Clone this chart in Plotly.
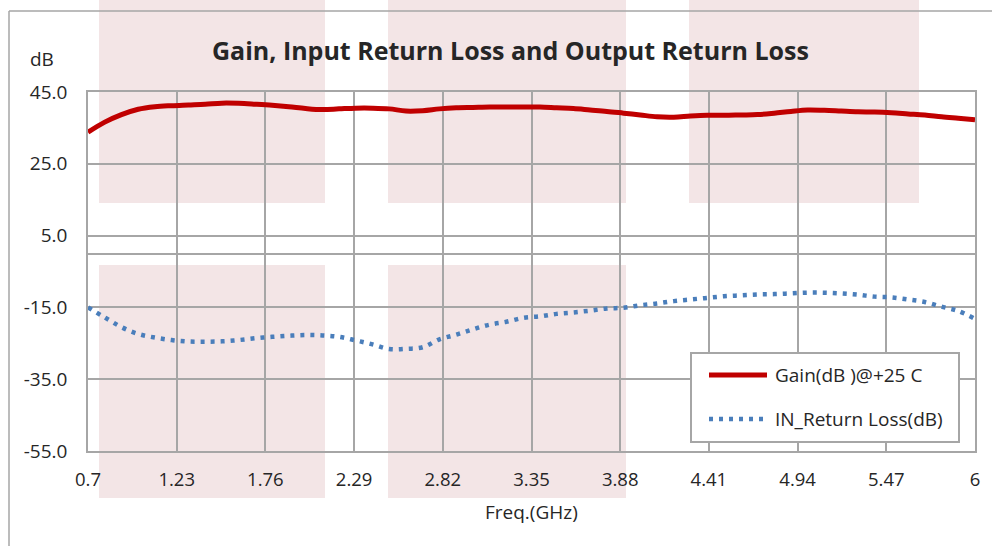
import plotly.graph_objects as go

# ---------------- data ----------------
freq_ghz = [0.7, 0.8, 0.9, 1.0, 1.1, 1.2, 1.3, 1.4, 1.5, 1.6, 1.7, 1.8, 1.9, 2.0,
            2.1, 2.2, 2.3, 2.4, 2.5, 2.6, 2.7, 2.8, 2.9, 3.0, 3.1, 3.2, 3.3, 3.4,
            3.5, 3.6, 3.7, 3.8, 3.9, 4.0, 4.1, 4.2, 4.3, 4.4, 4.5, 4.6, 4.7, 4.8,
            4.9, 5.0, 5.1, 5.2, 5.3, 5.4, 5.5, 5.6, 5.7, 5.8, 5.9, 6.0]

gain_db = [33.8, 36.6, 38.7, 40.2, 40.9, 41.2, 41.4, 41.6, 41.9, 41.85, 41.6, 41.3,
           40.9, 40.4, 40.1, 40.3, 40.5, 40.5, 40.3, 39.7, 39.8, 40.3, 40.6, 40.7,
           40.8, 40.8, 40.8, 40.8, 40.6, 40.4, 40.0, 39.6, 39.1, 38.6, 38.1, 38.0,
           38.3, 38.5, 38.5, 38.6, 38.7, 39.1, 39.6, 40.0, 39.9, 39.7, 39.5, 39.4,
           39.2, 38.9, 38.6, 38.1, 37.7, 37.3]

in_return_loss_db = [-15.0, -17.8, -20.5, -22.4, -23.4, -24.1, -24.5, -24.55, -24.45,
                     -24.1, -23.6, -23.2, -22.9, -22.7, -22.8, -23.2, -24.2, -25.3,
                     -26.6, -26.55, -26.1, -23.9, -22.6, -21.1, -19.8, -19.0, -17.9,
                     -17.5, -16.8, -16.4, -15.9, -15.3, -15.1, -14.4, -13.9, -13.25,
                     -12.8, -12.35, -11.9, -11.65, -11.4, -11.3, -11.1, -10.9, -10.9,
                     -11.1, -11.45, -12.0, -12.2, -12.8, -13.5, -14.8, -16.0, -18.2]

x_tick_vals = [0.7, 1.23, 1.76, 2.29, 2.82, 3.35, 3.88, 4.41, 4.94, 5.47, 6.0]
x_tick_text = ["0.7", "1.23", "1.76", "2.29", "2.82", "3.35", "3.88", "4.41", "4.94", "5.47", "6"]
y_tick_vals = [-55, -35, -15, 5, 25, 45]
y_tick_text = ["-55.0", "-35.0", "-15.0", "5.0", "25.0", "45.0"]

series_names = ["Gain(dB )@+25 C", "IN_Return Loss(dB)"]
title_text = "Gain, Input Return Loss and Output Return Loss"

# ---------------- layout geometry (window pixels) ----------------
W, H = 992, 546
L, R, T, B = 88, 975, 92, 451   # plot area in window pixels
FONT = "Open Sans"
TXT = "#262626"
GRID = "#a6a6a6"
PINK = "#f3e5e6"
RED = "#c00000"
BLUE = "#4a7ebb"
DOT = "4px,6px"


def px(x):
    return (x - L) / (R - L)


def py(y):
    return (B - y) / (B - T)


fig = go.Figure()
fig.add_trace(go.Scatter(x=freq_ghz, y=gain_db, mode="lines", name=series_names[0],
                         line=dict(color=RED, width=5, shape="spline"), showlegend=False))
fig.add_trace(go.Scatter(x=freq_ghz, y=in_return_loss_db, mode="lines", name=series_names[1],
                         line=dict(color=BLUE, width=4.5, dash=DOT, shape="spline"),
                         showlegend=False))

shapes = []
# background watermark blocks
for (x0, y0, x1, y1) in [(99, -2, 325, 203), (388, -2, 626, 203), (689, -2, 919, 203),
                         (99, 265, 325, 498), (388, 265, 626, 498)]:
    shapes.append(dict(type="rect", xref="paper", yref="paper", x0=px(x0), x1=px(x1),
                       y0=py(y1), y1=py(y0), fillcolor=PINK, line=dict(width=0), layer="below"))
# outer chart border (top and left)
shapes.append(dict(type="line", xref="paper", yref="paper", x0=px(9), x1=px(995),
                   y0=py(11), y1=py(11), line=dict(color=GRID, width=1.5), layer="below"))
shapes.append(dict(type="line", xref="paper", yref="paper", x0=px(9), x1=px(9),
                   y0=py(11), y1=py(560), line=dict(color=GRID, width=1.5), layer="below"))
# legend box
shapes.append(dict(type="rect", xref="paper", yref="paper", x0=px(691), x1=px(959),
                   y0=py(442), y1=py(353), fillcolor="white", line=dict(color=GRID, width=2),
                   layer="above"))
shapes.append(dict(type="line", xref="paper", yref="paper", x0=px(709), x1=px(767),
                   y0=py(375), y1=py(375), line=dict(color=RED, width=5), layer="above"))
shapes.append(dict(type="line", xref="paper", yref="paper", x0=px(709), x1=px(767),
                   y0=py(419), y1=py(419), line=dict(color=BLUE, width=4.5, dash=DOT),
                   layer="above"))

annotations = [
    dict(text=series_names[0], xref="paper", yref="paper", x=px(773), y=py(375),
         xanchor="left", yanchor="middle", showarrow=False, font=dict(size=19, color=TXT, family=FONT)),
    dict(text=series_names[1], xref="paper", yref="paper", x=px(773), y=py(419),
         xanchor="left", yanchor="middle", showarrow=False, font=dict(size=19, color=TXT, family=FONT)),
    dict(text="dB", xref="paper", yref="paper", x=px(42), y=py(59),
         xanchor="center", yanchor="middle", showarrow=False, font=dict(size=19, color=TXT, family=FONT)),
    dict(text="Freq.(GHz)", xref="paper", yref="paper", x=px(531), y=py(512),
         xanchor="center", yanchor="middle", showarrow=False, font=dict(size=19, color=TXT, family=FONT)),
    dict(text="<b>" + title_text + "</b>", xref="paper", yref="paper", x=px(510), y=py(50),
         xanchor="center", yanchor="middle", showarrow=False, font=dict(size=25, color=TXT, family=FONT)),
]

fig.update_layout(
    width=W, height=H,
    margin=dict(l=L, r=W - R, t=T, b=H - B, pad=0),
    paper_bgcolor="white", plot_bgcolor="rgba(0,0,0,0)",
    shapes=shapes, annotations=annotations,
    font=dict(family=FONT, size=18, color=TXT),
    showlegend=False,
)
fig.update_xaxes(range=[0.7, 6.0], tickmode="array", tickvals=x_tick_vals, ticktext=x_tick_text,
                 showgrid=True, gridcolor=GRID, gridwidth=1.5, zeroline=False,
                 showline=True, linecolor=GRID, linewidth=1.5, mirror=True,
                 ticks="", ticklabelstandoff=11, tickfont=dict(size=18.5, color=TXT, family=FONT))
fig.update_yaxes(range=[-55, 45], tickmode="array", tickvals=y_tick_vals, ticktext=y_tick_text,
                 showgrid=True, gridcolor=GRID, gridwidth=1.5, zeroline=True,
                 zerolinecolor=GRID, zerolinewidth=1.5,
                 showline=True, linecolor=GRID, linewidth=1.5, mirror=True,
                 ticks="", ticklabelstandoff=15, tickfont=dict(size=19, color=TXT, family=FONT))

fig.write_html("out.html", config={"displayModeBar": False},
               post_script="document.body.style.margin='0px';")
